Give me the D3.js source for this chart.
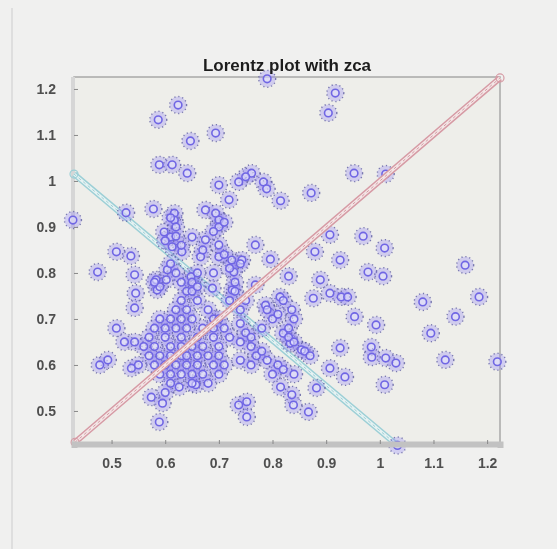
<!DOCTYPE html>
<html>
<head>
<meta charset="utf-8">
<script src="https://cdn.jsdelivr.net/npm/d3@7"></script>
<style>
  html, body { margin: 0; padding: 0; background: #f0f0ef; }
  svg { display: block; }
</style>
</head>
<body>
<div id="chart"></div>
<script>
// RR(n) on x, RR(n+1) on y
const rrX = [
  0.79, 0.917, 0.904, 0.624, 0.587, 0.694, 0.647, 0.589, 0.613, 0.641,
  0.952, 1.011, 0.761, 0.750, 0.737, 0.700, 0.783, 0.789, 0.815, 0.719,
  0.872, 0.428, 0.527, 0.578, 0.617, 0.675, 0.694, 0.700, 0.617, 0.598,
  0.610, 0.650, 0.675, 0.700, 0.613, 0.631, 0.666, 0.700, 0.724, 0.743,
  0.768, 0.796, 0.907, 0.969, 1.009, 0.879, 0.926, 0.509, 0.536, 0.474,
  0.543, 0.583, 0.604, 0.602, 0.648, 0.728, 0.830, 0.978, 1.006, 1.159,
  0.768, 0.889, 0.907, 0.928, 0.940, 1.185, 1.080, 0.876, 0.814, 0.787,
  0.836, 0.545, 0.543, 0.585, 0.688, 0.725, 0.953, 0.993, 1.141, 1.095,
  0.509, 0.524, 0.543, 0.926, 0.984, 0.985, 1.011, 1.030, 1.122, 1.219,
  0.907, 0.935, 1.009, 0.882, 0.815, 0.836, 0.839, 0.867, 0.737, 0.752,
  0.752, 0.478, 0.493, 0.537, 0.574, 0.595, 0.589, 0.626, 0.657, 1.033,
  0.833, 0.854, 0.820, 0.830,
  // dense core
  0.59, 0.61, 0.63, 0.65, 0.69, 0.70,
  0.62, 0.64, 0.68, 0.74,
  0.63, 0.66, 0.72, 0.75,
  0.64, 0.65, 0.73,
  0.63, 0.65, 0.73,
  0.58, 0.60, 0.62, 0.64, 0.67, 0.69, 0.71,
  0.57, 0.60, 0.63, 0.66, 0.69, 0.72,
  0.56, 0.58, 0.61, 0.63, 0.65, 0.67, 0.70,
  0.57, 0.59, 0.61, 0.63, 0.64, 0.66, 0.68, 0.70,
  0.55, 0.58, 0.60, 0.62, 0.64, 0.66, 0.69, 0.71,
  0.59, 0.61, 0.63, 0.65, 0.67, 0.70,
  0.61, 0.65, 0.68,
  0.60,
  // right-hand group
  0.74, 0.75, 0.76, 0.74, 0.76, 0.78, 0.80, 0.81, 0.79, 0.82,
  0.84, 0.83, 0.84, 0.86, 0.87, 0.77, 0.79, 0.81, 0.82, 0.84,
  0.74, 0.78, 0.76, 0.80,
  // upper group
  0.62, 0.61, 0.62, 0.60, 0.63, 0.70, 0.71, 0.69, 0.67, 0.71,
  0.74, 0.72, 0.69, 0.66, 0.61, 0.62, 0.59, 0.58, 0.66
];
const rrY = [
  1.222, 1.191, 1.148, 1.165, 1.133, 1.104, 1.087, 1.035, 1.035, 1.017,
  1.017, 1.015, 1.017, 1.009, 0.998, 0.991, 0.998, 0.983, 0.957, 0.959,
  0.974, 0.915, 0.931, 0.939, 0.930, 0.937, 0.930, 0.915, 0.915, 0.889,
  0.878, 0.878, 0.872, 0.861, 0.857, 0.846, 0.835, 0.835, 0.828, 0.828,
  0.861, 0.830, 0.883, 0.880, 0.854, 0.846, 0.828, 0.846, 0.837, 0.802,
  0.796, 0.785, 0.807, 0.785, 0.792, 0.802, 0.793, 0.802, 0.793, 0.817,
  0.774, 0.785, 0.756, 0.748, 0.748, 0.748, 0.737, 0.745, 0.748, 0.730,
  0.720, 0.756, 0.724, 0.763, 0.767, 0.763, 0.705, 0.687, 0.705, 0.669,
  0.680, 0.650, 0.650, 0.637, 0.639, 0.617, 0.615, 0.604, 0.611, 0.607,
  0.593, 0.574, 0.557, 0.550, 0.552, 0.535, 0.513, 0.498, 0.513, 0.520,
  0.487, 0.600, 0.611, 0.593, 0.530, 0.517, 0.476, 0.552, 0.557, 0.425,
  0.647, 0.633, 0.669, 0.680,
  // dense core
  0.70, 0.70, 0.70, 0.70, 0.70, 0.70,
  0.72, 0.72, 0.72, 0.72,
  0.74, 0.74, 0.74, 0.74,
  0.76, 0.76, 0.76,
  0.78, 0.78, 0.78,
  0.68, 0.68, 0.68, 0.68, 0.68, 0.68, 0.68,
  0.66, 0.66, 0.66, 0.66, 0.66, 0.66,
  0.64, 0.64, 0.64, 0.64, 0.64, 0.64, 0.64,
  0.62, 0.62, 0.62, 0.62, 0.62, 0.62, 0.62, 0.62,
  0.60, 0.60, 0.60, 0.60, 0.60, 0.60, 0.60, 0.60,
  0.58, 0.58, 0.58, 0.58, 0.58, 0.58,
  0.56, 0.56, 0.56,
  0.54,
  // right-hand group
  0.69, 0.67, 0.66, 0.65, 0.64, 0.68, 0.70, 0.71, 0.72, 0.74,
  0.70, 0.66, 0.65, 0.63, 0.62, 0.62, 0.61, 0.60, 0.59, 0.58,
  0.61, 0.63, 0.60, 0.58,
  // upper group
  0.90, 0.92, 0.88, 0.87, 0.86, 0.90, 0.91, 0.89, 0.85, 0.84,
  0.82, 0.81, 0.80, 0.80, 0.82, 0.80, 0.77, 0.78, 0.77
];

// identity line and the perpendicular through the cloud
const diagX = [0.432, 1.224];
const diagY = [0.432, 1.224];
const perpX = [0.430, 1.032];
const perpY = [1.015, 0.426];

const xTicks = [0.5, 0.6, 0.7, 0.8, 0.9, 1, 1.1, 1.2];
const yTicks = [0.5, 0.6, 0.7, 0.8, 0.9, 1, 1.1, 1.2];
const title = 'Lorentz plot with zca';

const W = 557, H = 549;
const box = { left: 74, right: 500, top: 77, bottom: 445 };

const svg = d3.select('#chart').append('svg')
  .attr('width', W)
  .attr('height', H);

const defs = svg.append('defs');
defs.append('filter').attr('id', 'soft')
  .append('feGaussianBlur').attr('stdDeviation', 0.65);
defs.append('filter').attr('id', 'softText')
  .append('feGaussianBlur').attr('stdDeviation', 0.45);

svg.append('rect').attr('width', W).attr('height', H).attr('fill', '#f0f0ef');

const root = svg.append('g').attr('filter', 'url(#soft)');

root.append('line')
  .attr('x1', 12).attr('x2', 12).attr('y1', 8).attr('y2', H)
  .attr('stroke', '#d8d8d8').attr('stroke-width', 1.5);

const x = d3.scaleLinear().domain([0.43, 1.224]).range([box.left, box.right]);
const y = d3.scaleLinear().domain([0.426, 1.226]).range([box.bottom, box.top]);

// plot area
root.append('rect')
  .attr('x', box.left).attr('y', box.top)
  .attr('width', box.right - box.left).attr('height', box.bottom - box.top)
  .attr('fill', '#eeeeea')
  .attr('stroke', '#a8a8a8').attr('stroke-width', 1.5);

// left axis band
root.append('rect')
  .attr('x', box.left - 3).attr('y', box.top)
  .attr('width', 4).attr('height', box.bottom - box.top)
  .attr('fill', '#d6d6d6');

const line = d3.line().x(d => x(d[0])).y(d => y(d[1]));

function bandLine(xs, ys, outer, inner) {
  const pts = xs.map((v, i) => [v, ys[i]]);
  root.append('path').attr('d', line(pts))
    .attr('fill', 'none').attr('stroke', outer).attr('stroke-width', 6);
  root.append('path').attr('d', line(pts))
    .attr('fill', 'none').attr('stroke', inner).attr('stroke-width', 3);
  root.append('path').attr('d', line(pts))
    .attr('fill', 'none').attr('stroke', outer).attr('stroke-width', 1)
    .attr('stroke-dasharray', '3 3');
  root.selectAll(null).data(pts).enter().append('circle')
    .attr('cx', d => x(d[0])).attr('cy', d => y(d[1])).attr('r', 4)
    .attr('fill', 'none').attr('stroke', outer).attr('stroke-width', 1.2);
}

bandLine(perpX, perpY, '#9ccfd6', '#e6f2f2');

// scatter markers
const pts = rrX.map((v, i) => [v, rrY[i]]);
const marks = root.append('g');
marks.selectAll('circle.halo').data(pts).enter().append('circle')
  .attr('class', 'halo')
  .attr('cx', d => x(d[0])).attr('cy', d => y(d[1])).attr('r', 8.5)
  .attr('fill', 'rgba(140,126,245,0.3)')
  .attr('stroke', 'rgba(85,85,155,0.75)').attr('stroke-width', 1.4)
  .attr('stroke-dasharray', '1.2 2.8');
marks.selectAll('circle.ring').data(pts).enter().append('circle')
  .attr('class', 'ring')
  .attr('cx', d => x(d[0])).attr('cy', d => y(d[1])).attr('r', 3.8)
  .attr('fill', 'rgba(235,235,255,0.5)')
  .attr('stroke', '#7066e4').attr('stroke-width', 1.6);

bandLine(diagX, diagY, '#d69aa4', '#f3e6e6');

// axes
const tickFont = 'bold 14px "Liberation Sans", Arial, sans-serif';
const axes = svg.append('g').attr('filter', 'url(#softText)');
const xAxis = axes.append('g')
  .attr('transform', `translate(0,${box.bottom})`)
  .call(d3.axisBottom(x).tickValues(xTicks).tickFormat(d3.format('')).tickSize(4).tickPadding(9));
xAxis.select('.domain').attr('stroke', '#c2c2c2').attr('stroke-width', 6)
  .attr('transform', 'translate(0,-1)');
xAxis.selectAll('.tick line').attr('stroke', '#888').attr('transform', 'translate(0,-5)');
xAxis.selectAll('.tick text')
  .attr('fill', '#505050')
  .style('font', tickFont);

const yAxis = axes.append('g')
  .attr('transform', `translate(${box.left},0)`)
  .call(d3.axisLeft(y).tickValues(yTicks).tickFormat(d3.format('')).tickSize(-4).tickPadding(18));
yAxis.select('.domain').remove();
yAxis.selectAll('.tick line').attr('stroke', '#888');
yAxis.selectAll('.tick text')
  .attr('fill', '#505050')
  .style('font', tickFont);

axes.append('text')
  .attr('x', 287).attr('y', 71)
  .attr('text-anchor', 'middle')
  .attr('fill', '#1e1e1e')
  .style('font', 'bold 17px "Liberation Sans", Arial, sans-serif')
  .text(title);
</script>
</body>
</html>
